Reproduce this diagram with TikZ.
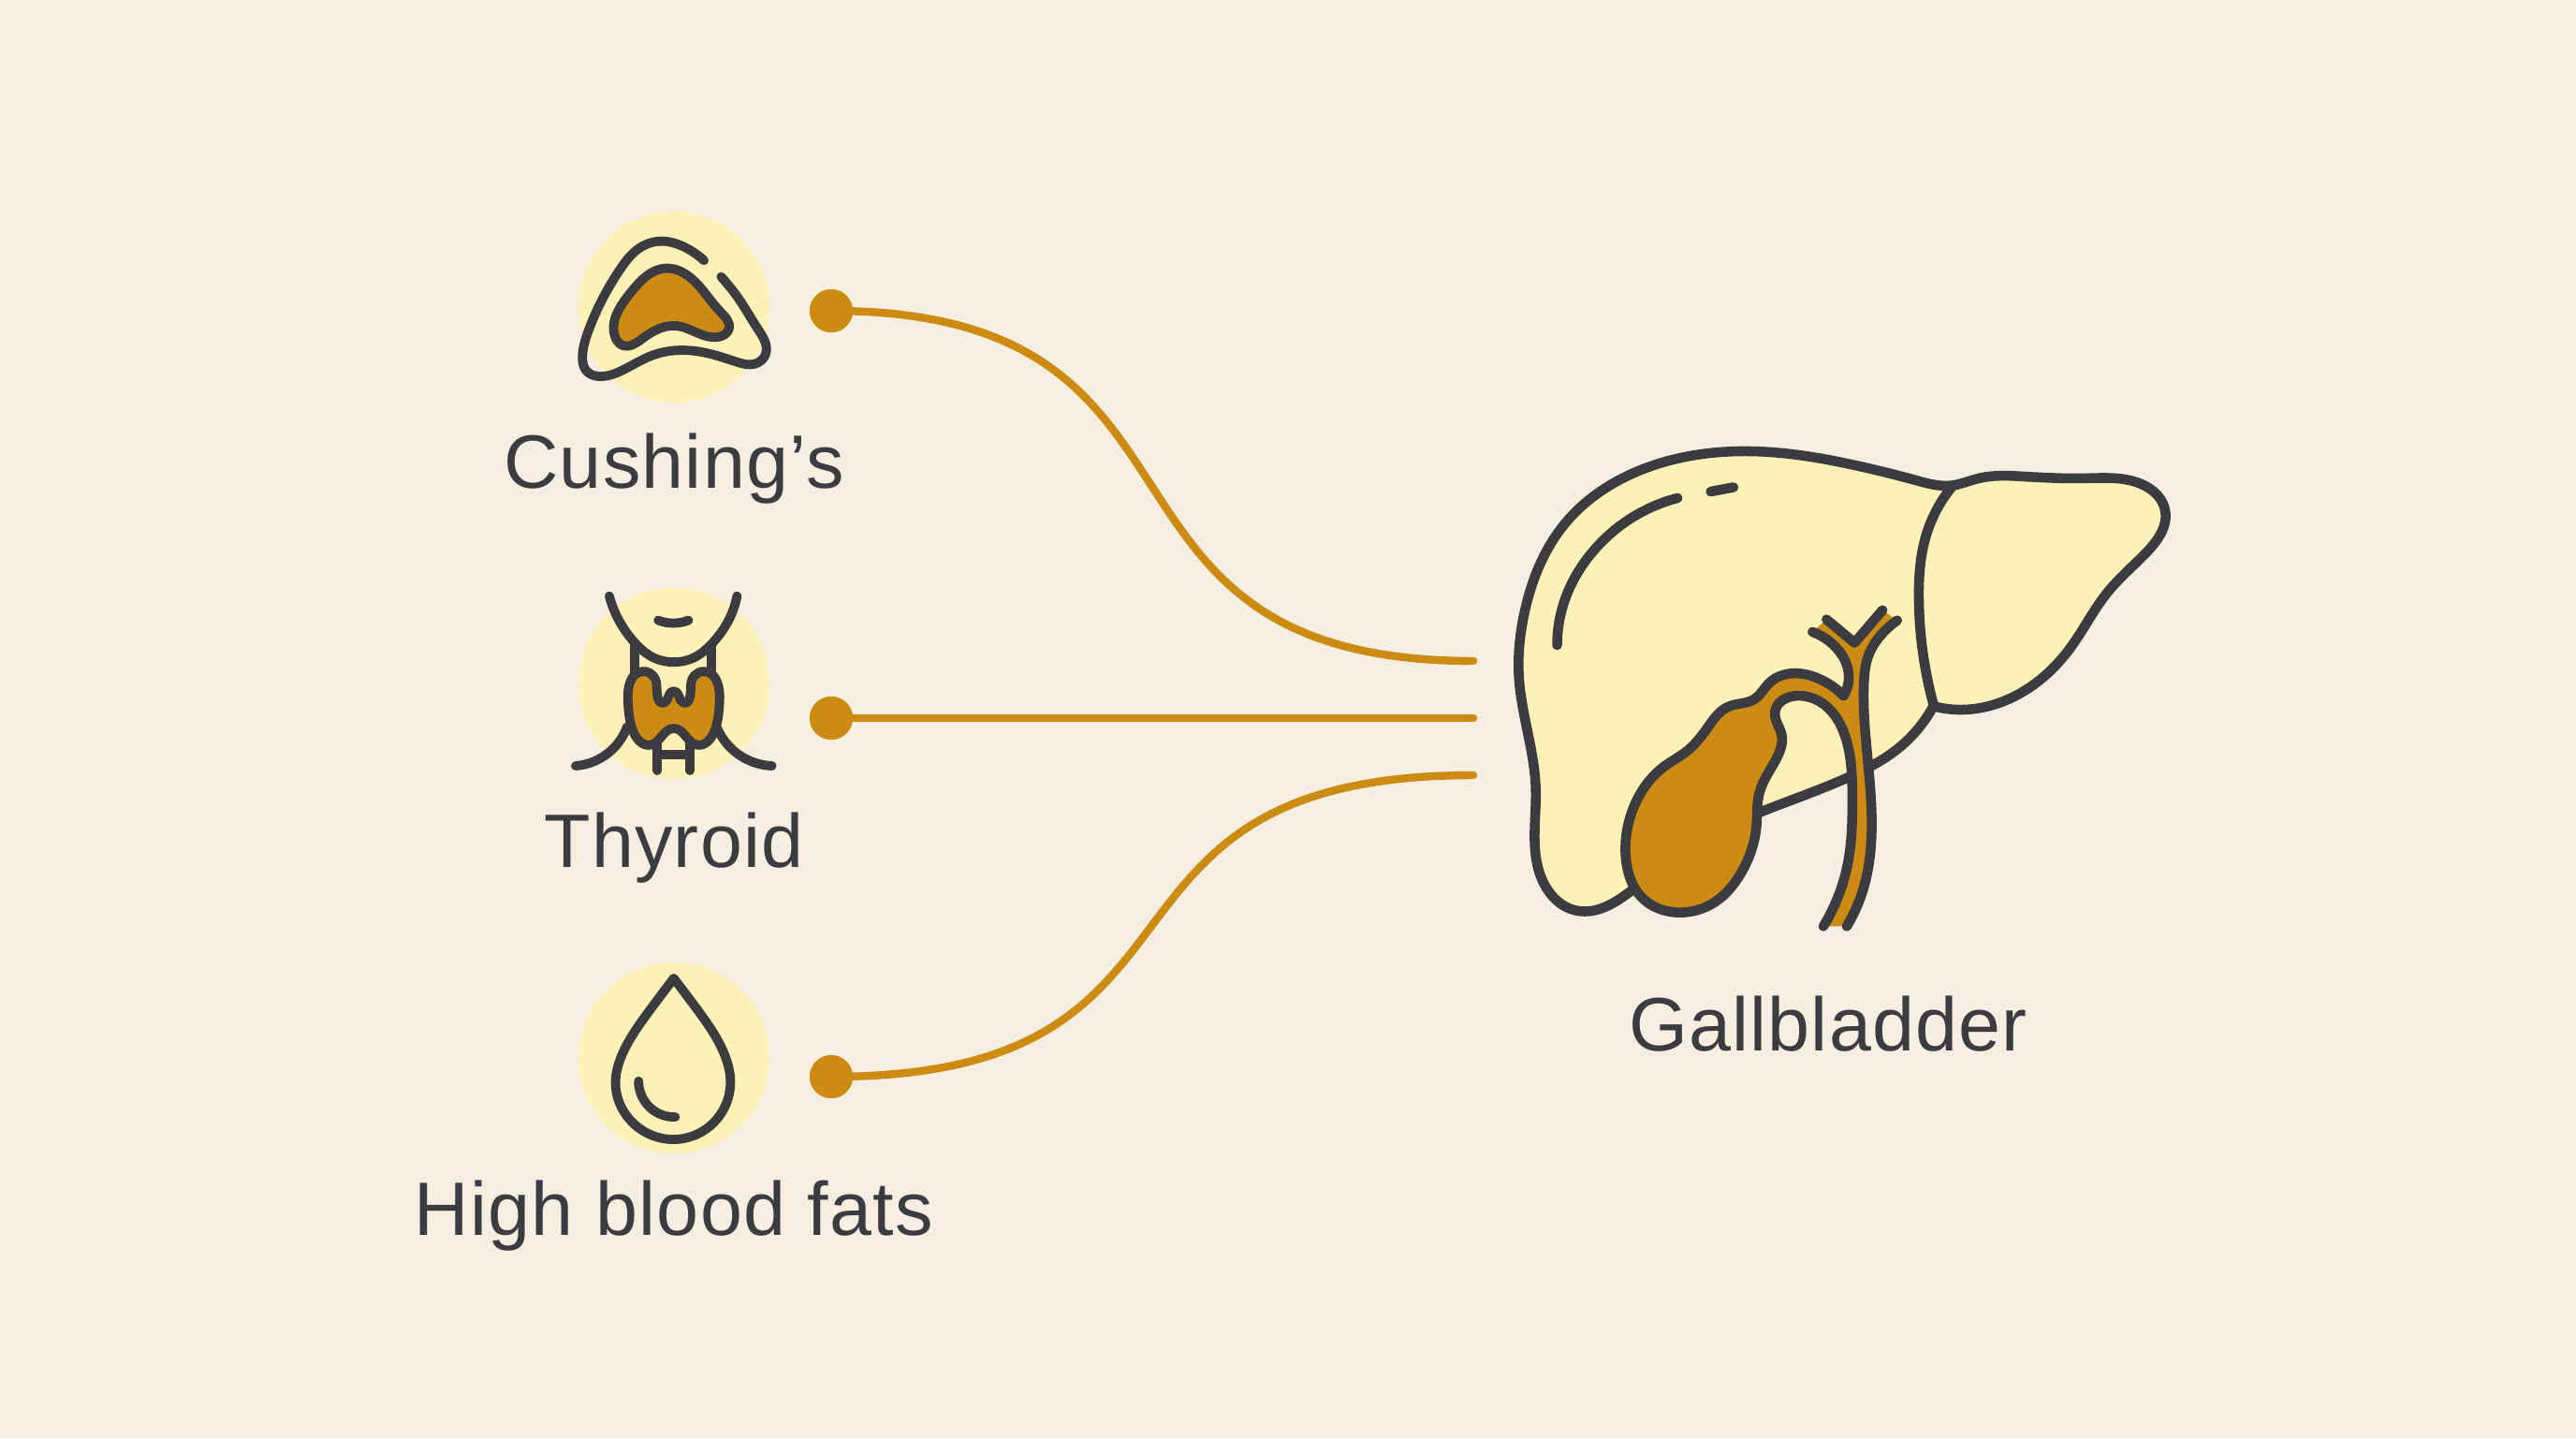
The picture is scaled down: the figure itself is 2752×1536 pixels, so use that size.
\documentclass[tikz,border=0pt]{standalone}
\usepackage{fontspec}
\usetikzlibrary{hobby}
\setmainfont{Liberation Sans}[LetterSpace=1.5]
\definecolor{paper}{HTML}{F6EEE1}
\definecolor{pale}{HTML}{FDF1B8}
\definecolor{ochre}{HTML}{CC8C14}
\definecolor{ink}{HTML}{3C3C40}
\tikzset{
  outline/.style={draw=ink,line width=3pt,line cap=round,line join=round,use Hobby shortcut},
  iconline/.style={draw=ink,line width=2.8pt,line cap=round,line join=round,use Hobby shortcut},
  halo/.style={circle,fill=pale,draw=none,minimum size=2.04cm,inner sep=0pt},
  pin/.style={circle,fill=ochre,draw=none,minimum size=0.46cm,inner sep=0pt},
  link/.style={draw=ochre,line width=2.4pt,line cap=round},
  caption/.style={text=ink,font=\fontsize{23}{28}\selectfont,inner sep=0pt,anchor=base},
  icon/.style 2 args={shift={(#1,#2)},x=0.003333cm,y=-0.003333cm},
}
\begin{document}
\begin{tikzpicture}[x=0.01cm,y=-0.01cm]
\fill[paper] (0,0) rectangle (2752,1536);
\useasboundingbox (0,0) rectangle (2752,1536);

% icon discs
\node[halo] (h1) at (720,328) {};
\node[halo] (h2) at (720,730) {};
\node[halo] (h3) at (720,1130) {};

% pituitary-like icon
\begin{scope}[icon={590}{210}]
\draw[iconline] (487,205) .. (420,160) .. (350,143) .. (280,165) .. (220,230) .. (120,420) .. (97,510) .. (110,560) .. (160,577) .. (230,555) .. (320,510) .. (410,493) .. (500,503) .. (590,530) .. (650,537) .. (685,505) .. (660,425) .. (610,345) .. (542,257);
\draw[iconline,fill=ochre,closed=true] (365,230) .. (460,275) .. (540,370) .. (567,425) .. (535,450) .. (400,415) .. (290,455) .. (225,477) .. (200,445) .. (250,310);
\end{scope}

% neck and thyroid icon
\begin{scope}[icon={590}{610}]
\draw[iconline] (183,80) .. (215,160) .. (265,230) .. (330,280) .. (390,292) .. (450,280) .. (515,230) .. (565,160) .. (593,80);
\draw[iconline] (340,158) .. (390,167) .. (437,158);
\draw[iconline] (265,235) -- (265,330);
\draw[iconline] (512,235) -- (512,330);
\draw[iconline] (240,500) .. (190,575) .. (75,625);
\draw[iconline] (530,505) .. (600,590) .. (705,625);
\draw[iconline] (337,640) -- (337,555);
\draw[iconline] (442,640) -- (442,555);
\draw[iconline] (337,590) -- (442,590);
\draw[iconline,fill=ochre,closed=true] (290,322) .. (243,420) .. (262,520) .. (315,558) .. (390,505) .. (465,558) .. (518,520) .. (537,420) .. (487,322) .. (445,365) .. (420,422) .. (390,385) .. (360,422) .. (335,365);
\end{scope}

% blood droplet icon
\begin{scope}[icon={590}{1010}]
\draw[iconline] ([out angle=-127]390,105) .. (300,225) .. (222,355) .. (203,440) .. (253,563) .. (390,622) .. (523,563) .. (572,440) .. (555,355) .. (480,225) .. ([in angle=-53]390,105) -- cycle;
\draw[iconline] (277,435) .. (320,525) .. (395,550);
\end{scope}

% connectors and their pins
\coordinate (e1) at (1574,706);
\coordinate (e2) at (1574,767);
\coordinate (e3) at (1574,828);
\node[pin] (p1) at (888,332) {};
\node[pin] (p2) at (888,767) {};
\node[pin] (p3) at (888,1150) {};
\draw[link] (p1.center) .. controls (1330,332) and (1130,706) .. (e1);
\draw[link] (p2.center) -- (e2);
\draw[link] (p3.center) .. controls (1330,1150) and (1130,828) .. (e3);
\node[pin] at (p1) {};
\node[pin] at (p2) {};
\node[pin] at (p3) {};

% liver
\begin{scope}[shift={(1580,440)},x=0.004854cm,y=-0.003831cm]
\draw[outline,fill=pale] (1000,820) .. (1060,830) .. (1190,785) .. (1300,660) .. (1385,500) .. (1470,390) .. (1510,275) .. (1430,190) .. (1330,185) .. (1200,180) .. (1100,185) .. (1040,205) .. (960,190) .. (850,155) .. (610,110) .. (370,155) .. (190,310) .. (100,560) .. (88,740) .. (125,1050) .. (132,1280) .. (215,1390) .. (340,1330) .. (480,1200) .. (620,1115) .. (810,1020) .. (930,930) .. (1000,820) -- cycle;
\draw[outline] (1040,210) .. (985,340) .. (968,520) .. (1000,815);
\draw[outline] (172,650) .. (190,520) .. (250,390) .. (330,300) .. (437,240);
\draw[outline] (510,222) -- (560,210);
\end{scope}

% gallbladder and bile ducts
\begin{scope}[icon={1700}{620}]
\fill[ochre,use Hobby shortcut] (810,370) .. (730,315) .. (650,298) .. (570,330) .. (525,380) .. (440,405) .. (375,470) .. (310,545) .. (230,600) .. (160,680) .. (112,820) .. (115,920) .. (160,1015) .. (300,1065) .. (400,1030) .. (480,940) .. (530,790) .. (540,680) .. (600,560) .. (612,500) .. (590,420) .. (660,370) .. (750,400) .. (815,500) .. (838,700) .. (825,900) .. (745,1110) -- (820,1110) .. (870,1000) .. (900,800) .. (885,550) .. (875,330) .. (890,240) .. (930,175) .. (982,128) -- (935,95) -- (845,200) -- (755,125) -- (710,165) .. (790,220) .. (825,290) .. (810,370) -- cycle;
\draw[outline] (810,370) .. (730,315) .. (650,298) .. (570,330) .. (525,380) .. (440,405) .. (375,470) .. (310,545) .. (230,600) .. (160,680) .. (112,820) .. (115,920) .. (160,1015) .. (300,1065) .. (400,1030) .. (480,940) .. (530,790) .. (540,680) .. (600,560) .. (612,500) .. (590,420) .. (660,370) .. (750,400) .. (815,500) .. (838,700) .. (825,900) .. (745,1110);
\draw[outline] (810,370) .. (825,290) .. (790,220) .. (710,165);
\draw[outline] (755,125) -- (845,200) -- (935,95);
\draw[outline] (982,128) .. (930,175) .. (890,240) .. (875,330) .. (885,550) .. (900,800) .. (870,1000) .. (820,1110);
\end{scope}

% captions
\node[caption] (c1) at (720,521) {Cushing’s};
\node[caption] (c2) at (720,926) {Thyroid};
\node[caption] (c3) at (720,1319) {High blood fats};
\node[caption] (c4) at (1953,1122) {Gallbladder};
\end{tikzpicture}
\end{document}
